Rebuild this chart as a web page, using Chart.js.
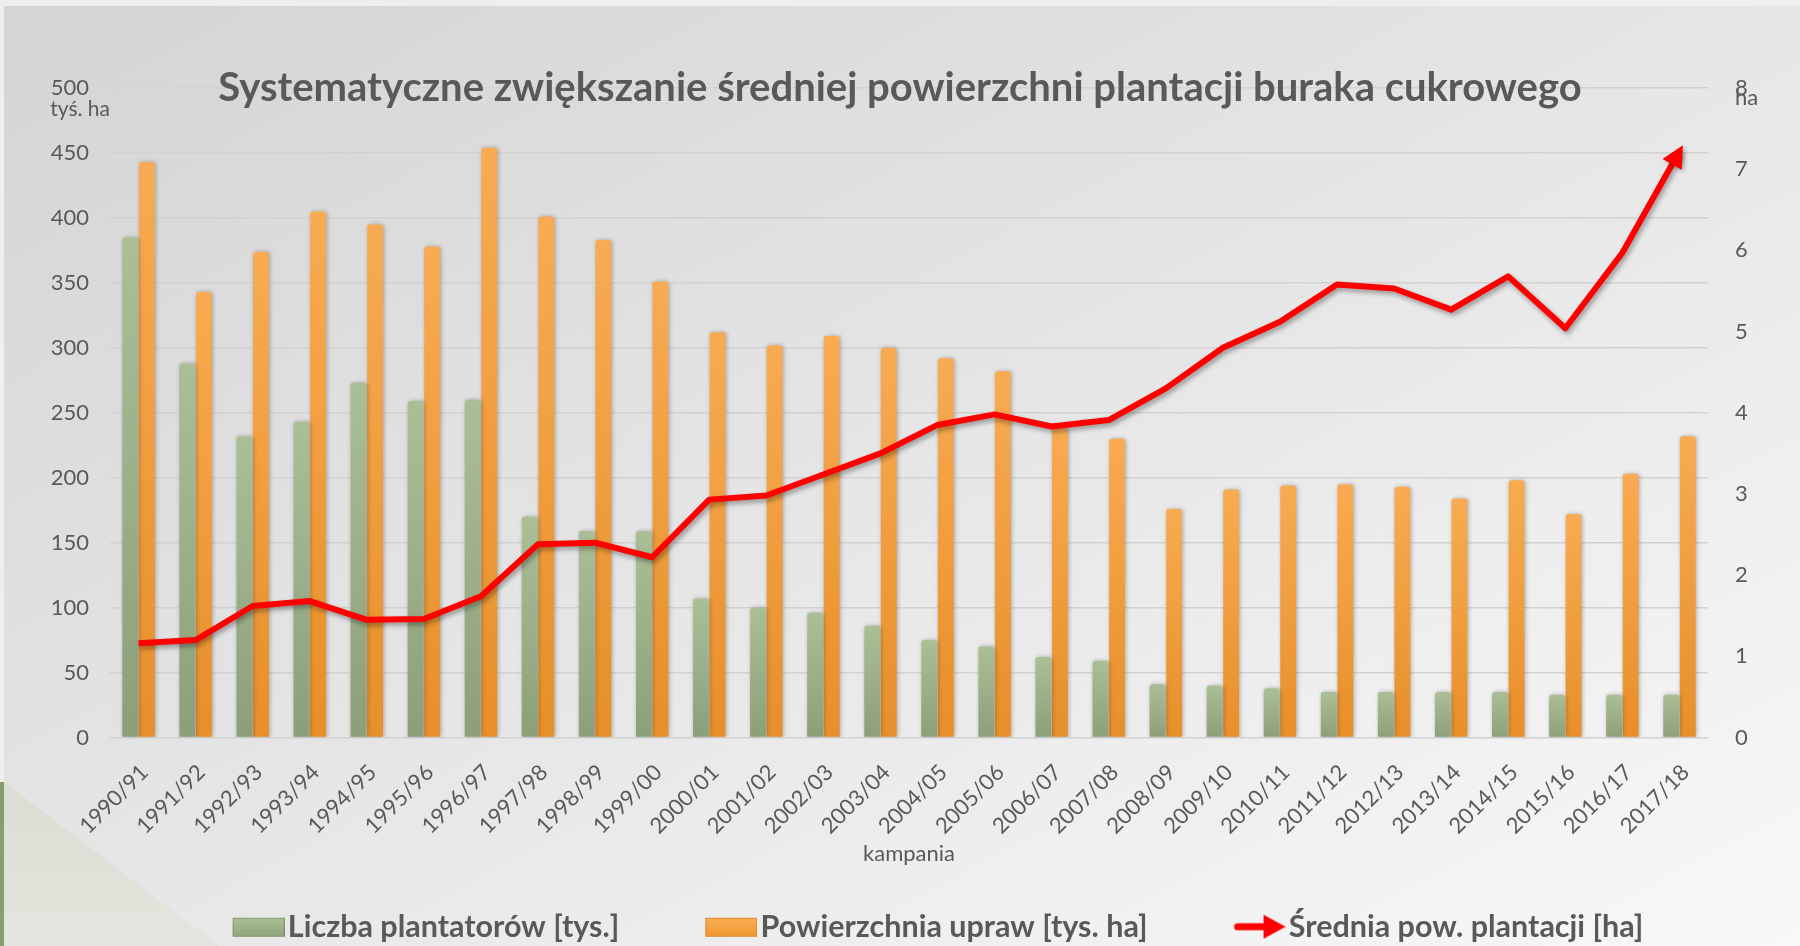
<!DOCTYPE html>
<html>
<head>
<meta charset="utf-8">
<script src="https://cdn.jsdelivr.net/npm/chart.js@4.4.1/dist/chart.umd.min.js"></script>
<style>
html,body{margin:0;padding:0;width:1800px;height:946px;overflow:hidden;}
body{background:#efefef;position:relative;font-family:Lato,sans-serif;}
#slide{position:absolute;left:4px;top:6px;width:1796px;height:940px;
  background:linear-gradient(to bottom right,#d4d4d4 0%,#e6e6e6 50%,#f8f8f8 100%);}
#tri{position:absolute;left:4px;top:782px;width:215px;height:164px;
  background:linear-gradient(to bottom,#d9ddd2,#e3e6de);clip-path:polygon(0 0,100% 100%,0 100%);}
#strip{position:absolute;left:0;top:782px;width:4px;height:164px;background:#8a9d6e;}
#wrap{position:absolute;left:0;top:0;width:1800px;height:980px;}
</style>
</head>
<body>
<div id="slide"></div>
<div id="tri"></div>
<div id="strip"></div>
<div id="wrap"><canvas id="c" width="1800" height="980"></canvas></div>
<script>
const categories = ['1990/91','1991/92','1992/93','1993/94','1994/95','1995/96','1996/97','1997/98','1998/99','1999/00',
  '2000/01','2001/02','2002/03','2003/04','2004/05','2005/06','2006/07','2007/08','2008/09','2009/10',
  '2010/11','2011/12','2012/13','2013/14','2014/15','2015/16','2016/17','2017/18'];
const liczbaPlantatorow = [385, 288, 232, 243, 273, 259, 260, 170, 159, 159,
  107, 100, 96, 86, 75, 70, 62, 59, 41, 40,
  38, 35, 35, 35, 35, 33, 33, 33];
const powierzchniaUpraw = [443, 343, 374, 405, 395, 378, 454, 401, 383, 351,
  312, 302, 309, 300, 292, 282, 238, 230, 176, 191,
  194, 195, 193, 184, 198, 172, 203, 232];
const sredniaPowierzchnia = [1.16, 1.20, 1.62, 1.68, 1.45, 1.46, 1.74, 2.38, 2.40, 2.22,
  2.93, 2.98, 3.24, 3.50, 3.85, 3.98, 3.83, 3.91, 4.30, 4.80,
  5.12, 5.58, 5.53, 5.27, 5.68, 5.04, 5.97, 7.22];
const leftAxisMax = 500, leftAxisStep = 50;
const rightAxisMax = 8, rightAxisStep = 1;
const leftUnit = 'tyś. ha';
const rightUnit = 'ha';
const seriesNames = ['Liczba plantatorów [tys.]','Powierzchnia upraw [tys. ha]','Średnia pow. plantacji [ha]'];
const chartTitle = 'Systematyczne zwiększanie średniej powierzchni plantacji buraka cukrowego';
const xTitle = 'kampania';

const TXT = '#595959';
const FONT = 'Lato';

function barGradient(topColor, bottomColor){
  return function(ctx){
    const chart = ctx.chart;
    if (!chart.chartArea || ctx.type !== 'data' || !chart.scales.y) return bottomColor;
    const ys = chart.scales.y;
    const yTop = ys.getPixelForValue(ctx.parsed ? ctx.parsed.y : ctx.raw);
    const yBase = ys.getPixelForValue(0);
    if (!isFinite(yTop) || !isFinite(yBase) || yBase - yTop < 1) return bottomColor;
    const g = chart.ctx.createLinearGradient(0, yTop, 0, yBase);
    g.addColorStop(0, topColor);
    g.addColorStop(1, bottomColor);
    return g;
  };
}

const LEG_B = 116;
function legendImage(kind){
  const W = LEG_B + 24, H = 28;
  const c = document.createElement('canvas');
  c.width = W; c.height = H;
  const g = c.getContext('2d');
  const x0 = W - 52;
  if (kind === 'arrow') {
    g.strokeStyle = '#ff0000'; g.fillStyle = '#ff0000';
    g.lineWidth = 7; g.lineCap = 'round';
    g.beginPath(); g.moveTo(x0 + 4, H/2); g.lineTo(x0 + 34, H/2); g.stroke();
    g.beginPath(); g.moveTo(x0 + 52, H/2); g.lineTo(x0 + 30, H/2 - 12); g.lineTo(x0 + 30, H/2 + 12); g.closePath(); g.fill();
  } else {
    const gr = g.createLinearGradient(0, 5, 0, 23);
    if (kind === 'green') { gr.addColorStop(0,'#abc096'); gr.addColorStop(1,'#93a67f'); }
    else { gr.addColorStop(0,'#f9ad55'); gr.addColorStop(1,'#f29a33'); }
    g.fillStyle = gr;
    g.fillRect(x0, 5, 52, 19);
    g.strokeStyle = kind === 'green' ? 'rgba(110,130,90,0.6)' : 'rgba(200,120,30,0.6)';
    g.lineWidth = 1;
    g.strokeRect(x0 + 0.5, 5.5, 51, 18);
  }
  return c;
}
const legendImages = [legendImage('green'), legendImage('orange'), legendImage('arrow')];

const shadowPlugin = {
  id: 'shadows',
  beforeDatasetDraw(chart, args){
    const ctx = chart.ctx;
    ctx.save();
    if (args.meta.type === 'line') {
      ctx.shadowColor = 'rgba(0,0,0,0.35)'; ctx.shadowBlur = 5; ctx.shadowOffsetX = 2; ctx.shadowOffsetY = 3;
    } else {
      ctx.shadowColor = 'rgba(0,0,0,0.28)'; ctx.shadowBlur = 4; ctx.shadowOffsetX = 1; ctx.shadowOffsetY = 0;
    }
  },
  afterDatasetDraw(chart){ chart.ctx.restore(); }
};

const arrowPlugin = {
  id: 'arrowHead',
  afterDatasetsDraw(chart){
    const meta = chart.getDatasetMeta(2);
    const pts = meta.data;
    if (pts.length < 2) return;
    const p = pts[pts.length - 1], q = pts[pts.length - 2];
    const ang = Math.atan2(p.y - q.y, p.x - q.x);
    const ctx = chart.ctx;
    ctx.save();
    ctx.translate(p.x, p.y);
    ctx.rotate(ang);
    ctx.shadowColor = 'rgba(0,0,0,0.3)'; ctx.shadowBlur = 4; ctx.shadowOffsetX = 2; ctx.shadowOffsetY = 2;
    ctx.fillStyle = '#ff0000';
    ctx.beginPath();
    ctx.moveTo(7, 0);
    ctx.lineTo(-15, -11);
    ctx.lineTo(-15, 11);
    ctx.closePath();
    ctx.fill();
    ctx.restore();
  }
};

const unitPlugin = {
  id: 'units',
  afterDraw(chart){
    const ctx = chart.ctx;
    const y = chart.scales.y, y1 = chart.scales.y1;
    ctx.save();
    ctx.fillStyle = TXT;
    ctx.font = '21px ' + FONT;
    ctx.textBaseline = 'middle';
    ctx.textAlign = 'right';
    ctx.fillText(leftUnit, y.right, y.getPixelForValue(leftAxisMax) + 21);
    ctx.font = '22px ' + FONT;
    ctx.textAlign = 'left';
    ctx.fillText(rightUnit, y1.left + 27, y1.getPixelForValue(rightAxisMax) + 10);
    ctx.restore();
  }
};

new Chart(document.getElementById('c'), {
  data: {
    labels: categories,
    datasets: [
      { type: 'bar', label: seriesNames[0], data: liczbaPlantatorow, yAxisID: 'y', order: 1,
        backgroundColor: barGradient('#abbf97', '#8d9f79'),
        borderRadius: {topLeft: 3, topRight: 3}, borderSkipped: 'start',
        categoryPercentage: 0.58, barPercentage: 0.96 },
      { type: 'bar', label: seriesNames[1], data: powierzchniaUpraw, yAxisID: 'y', order: 1,
        backgroundColor: barGradient('#f8ab52', '#e78f2a'),
        borderRadius: {topLeft: 3, topRight: 3}, borderSkipped: 'start',
        categoryPercentage: 0.58, barPercentage: 0.96 },
      { type: 'line', label: seriesNames[2], data: sredniaPowierzchnia, yAxisID: 'y1', order: 0,
        borderColor: '#ff0000', backgroundColor: '#ff0000', borderWidth: 6,
        pointRadius: 0, pointHoverRadius: 0, tension: 0,
        borderJoinStyle: 'round', borderCapStyle: 'butt', fill: false }
    ]
  },
  options: {
    responsive: false,
    animation: false,
    layout: { padding: { left: 0, right: 0, top: 0, bottom: 28 } },
    plugins: {
      title: {
        display: true, text: chartTitle, color: TXT,
        font: { family: FONT, size: 40, weight: 'bold', lineHeight: 1.2 },
        padding: { top: 64, bottom: -24 }
      },
      legend: {
        position: 'bottom',
        labels: {
          usePointStyle: true,
          pointStyleWidth: LEG_B,
          padding: 10,
          color: TXT,
          font: { family: FONT, size: 30.5, weight: 'bold' },
          generateLabels(chart){
            const items = Chart.defaults.plugins.legend.labels.generateLabels(chart);
            items.forEach(it => { it.pointStyle = legendImages[it.datasetIndex]; it.fontColor = TXT; });
            return items;
          },
          sort: (a, b) => a.datasetIndex - b.datasetIndex
        }
      },
      tooltip: { enabled: false }
    },
    scales: {
      x: {
        grid: { display: false, drawTicks: false },
        border: { display: false },
        ticks: { color: TXT, font: { family: FONT, size: 22 }, minRotation: 45, maxRotation: 45, autoSkip: false, padding: 22, labelOffset: 6 },
        title: { display: true, text: xTitle, color: TXT, font: { family: FONT, size: 22 }, padding: { top: 0, bottom: 34 } },
        afterFit(s){ s.height = 164; }
      },
      y: {
        position: 'left', min: 0, max: leftAxisMax,
        ticks: { stepSize: leftAxisStep, color: TXT, font: { family: FONT, size: 22 }, padding: 21 },
        grid: { color: '#d2d2d2', lineWidth: 1.5, drawTicks: false },
        border: { display: false },
        afterFit(s){ s.width = 110; }
      },
      y1: {
        position: 'right', min: 0, max: rightAxisMax,
        ticks: { stepSize: rightAxisStep, color: TXT, font: { family: FONT, size: 22 }, padding: 27 },
        grid: { display: false, drawTicks: false },
        border: { display: false },
        afterFit(s){ s.width = 92; }
      }
    }
  },
  plugins: [shadowPlugin, arrowPlugin, unitPlugin]
});
</script>
</body>
</html>
